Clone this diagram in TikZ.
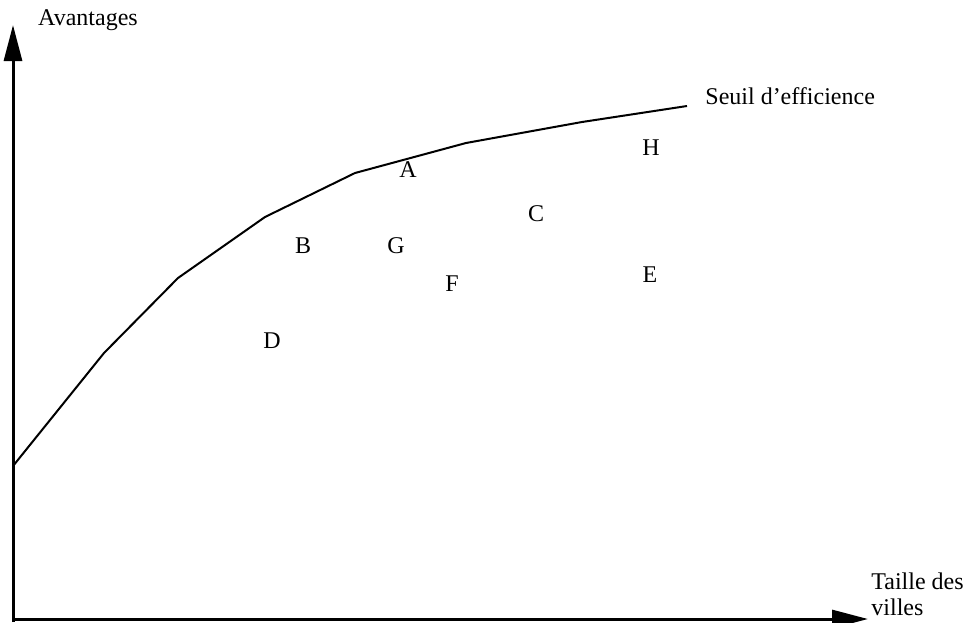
\documentclass[tikz,border=0pt]{standalone}
\usepackage{fontspec}
\setmainfont{Liberation Serif}
\usetikzlibrary{arrows.meta}
\begin{document}
\begin{tikzpicture}[x=0.5pt,y=-0.5pt,
  axis/.style={line width=1.5pt,-{Triangle[length=18pt,width=9pt]}},
  curve/.style={line width=1pt,line join=miter},
  lbl/.style={inner sep=0pt,font=\fontsize{12}{14}\selectfont},
  pt/.style={lbl}]
\useasboundingbox (0,0) rectangle (969,622);
% axes
\coordinate (Ytip) at (13,25);
\coordinate (Xtip) at (868,619);
\coordinate (Ybot) at (13,622);
\coordinate (Xl) at (13,619);
\draw[axis] (Ybot) -- (Ytip);
\draw[axis] (Xl) -- (Xtip);
% efficiency frontier
\coordinate (p1) at (13,466);
\coordinate (p2) at (104,353);
\coordinate (p3) at (178,278);
\coordinate (p4) at (265,217);
\coordinate (p5) at (355,173);
\coordinate (p6) at (466,143);
\coordinate (p7) at (582,122);
\coordinate (p8) at (687,106);
\draw[curve] (p1) -- (p2) -- (p3) -- (p4) -- (p5) -- (p6) -- (p7) -- (p8);
% labels
\node[lbl] (yl) at (88,20) {Avantages};
\node[lbl,anchor=west] (sl) at (705,96) {Seuil d’efficience};
\node[lbl,anchor=west,align=left] (xl) at (871,594) {Taille des\\[-1pt]villes};
% points
\node[pt] (A) at (408,170) {A};
\node[pt] (H) at (651,148) {H};
\node[pt] (C) at (536,214) {C};
\node[pt] (B) at (303,246) {B};
\node[pt] (G) at (396,246) {G};
\node[pt] (F) at (452,284) {F};
\node[pt] (E) at (650,275) {E};
\node[pt] (D) at (272,341) {D};
\end{tikzpicture}
\end{document}
